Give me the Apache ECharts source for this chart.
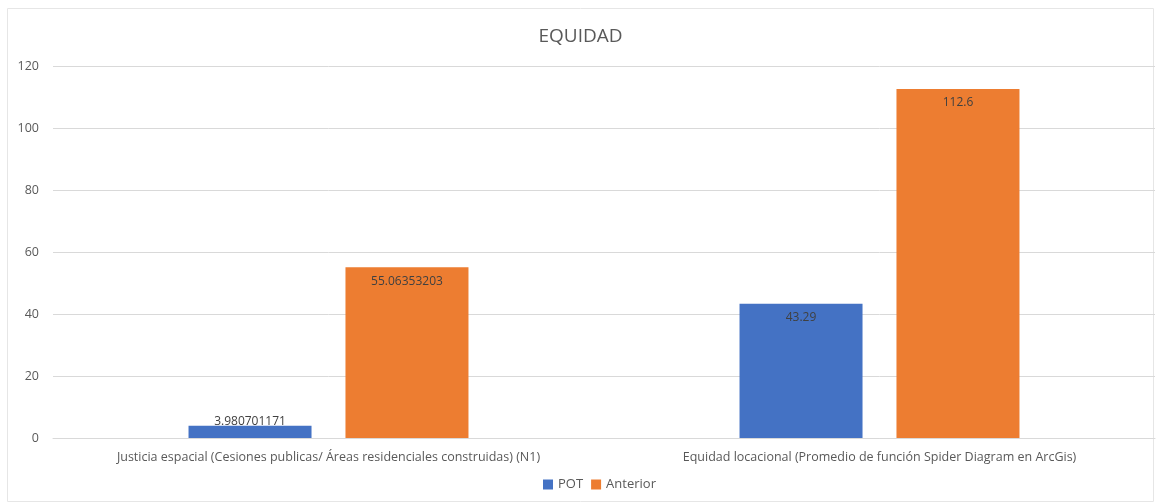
<!DOCTYPE html>
<html><head><meta charset="utf-8">
<script src="https://cdn.jsdelivr.net/npm/echarts@6/dist/echarts.min.js"></script>
<style>html,body{margin:0;padding:0;background:#fff}#c{width:1161px;height:504px}</style>
</head><body><div id="c"></div>
<script>
const categories = ["Justicia espacial (Cesiones publicas/ Áreas residenciales construidas) (N1)", "Equidad locacional (Promedio de función Spider Diagram en ArcGis)"];
const potValues = [3.980701171, 43.29];
const anteriorValues = [55.06353203, 112.6];
const potLabels = ["3.980701171", "43.29"];
const anteriorLabels = ["55.06353203", "112.6"];
const yTicks = [0, 20, 40, 60, 80, 100, 120];

const FONT = "Open Sans";
const chart = echarts.init(document.getElementById('c'));
function mkData(vals, labels) {
  return vals.map((v, i) => {
    const d = { value: v, label: { formatter: labels[i] } };
    if (v < 10) {
      d.label.position = ['50%', -4];
      d.label.align = 'center';
      d.label.verticalAlign = 'middle';
    }
    return d;
  });
}
const labelBase = { show: true, position: 'insideTop', distance: 8, color: '#404040', fontSize: 12, fontFamily: FONT };
chart.setOption({
  animation: false,
  backgroundColor: '#fff',
  title: { text: 'EQUIDAD', left: 'center', top: 22, textStyle: { fontFamily: FONT, fontSize: 19, fontWeight: 'normal', color: '#595959' } },
  legend: { bottom: 8, left: 538, itemWidth: 10, itemHeight: 10, itemGap: 8, icon: 'rect',
    textStyle: { fontFamily: FONT, fontSize: 13, color: '#595959' }, data: ['POT', 'Anterior'] },
  grid: { left: 53, right: 6, top: 66, bottom: 66 },
  xAxis: { type: 'category', data: categories,
    axisLine: { lineStyle: { color: '#d9d9d9' } }, axisTick: { show: false },
    axisLabel: { fontFamily: FONT, fontSize: 12.5, color: '#595959', margin: 13 } },
  yAxis: { type: 'value', min: yTicks[0], max: yTicks[yTicks.length - 1], interval: 20,
    axisLine: { show: false }, axisTick: { show: false },
    splitLine: { lineStyle: { color: '#d9d9d9' } },
    axisLabel: { fontFamily: FONT, fontSize: 12.5, color: '#595959', margin: 14 } },
  series: [
    { name: 'POT', type: 'bar', data: mkData(potValues, potLabels), itemStyle: { color: '#4472C4' },
      barWidth: 123, barGap: '27.6%', label: labelBase },
    { name: 'Anterior', type: 'bar', data: mkData(anteriorValues, anteriorLabels), itemStyle: { color: '#ED7D31' },
      barWidth: 123, label: labelBase }
  ],
  graphic: [{ type: 'rect', shape: { x: 7.5, y: 8.5, width: 1146, height: 493 }, style: { fill: null, stroke: '#e6e6e6', lineWidth: 1 }, silent: true }]
});
</script></body></html>
